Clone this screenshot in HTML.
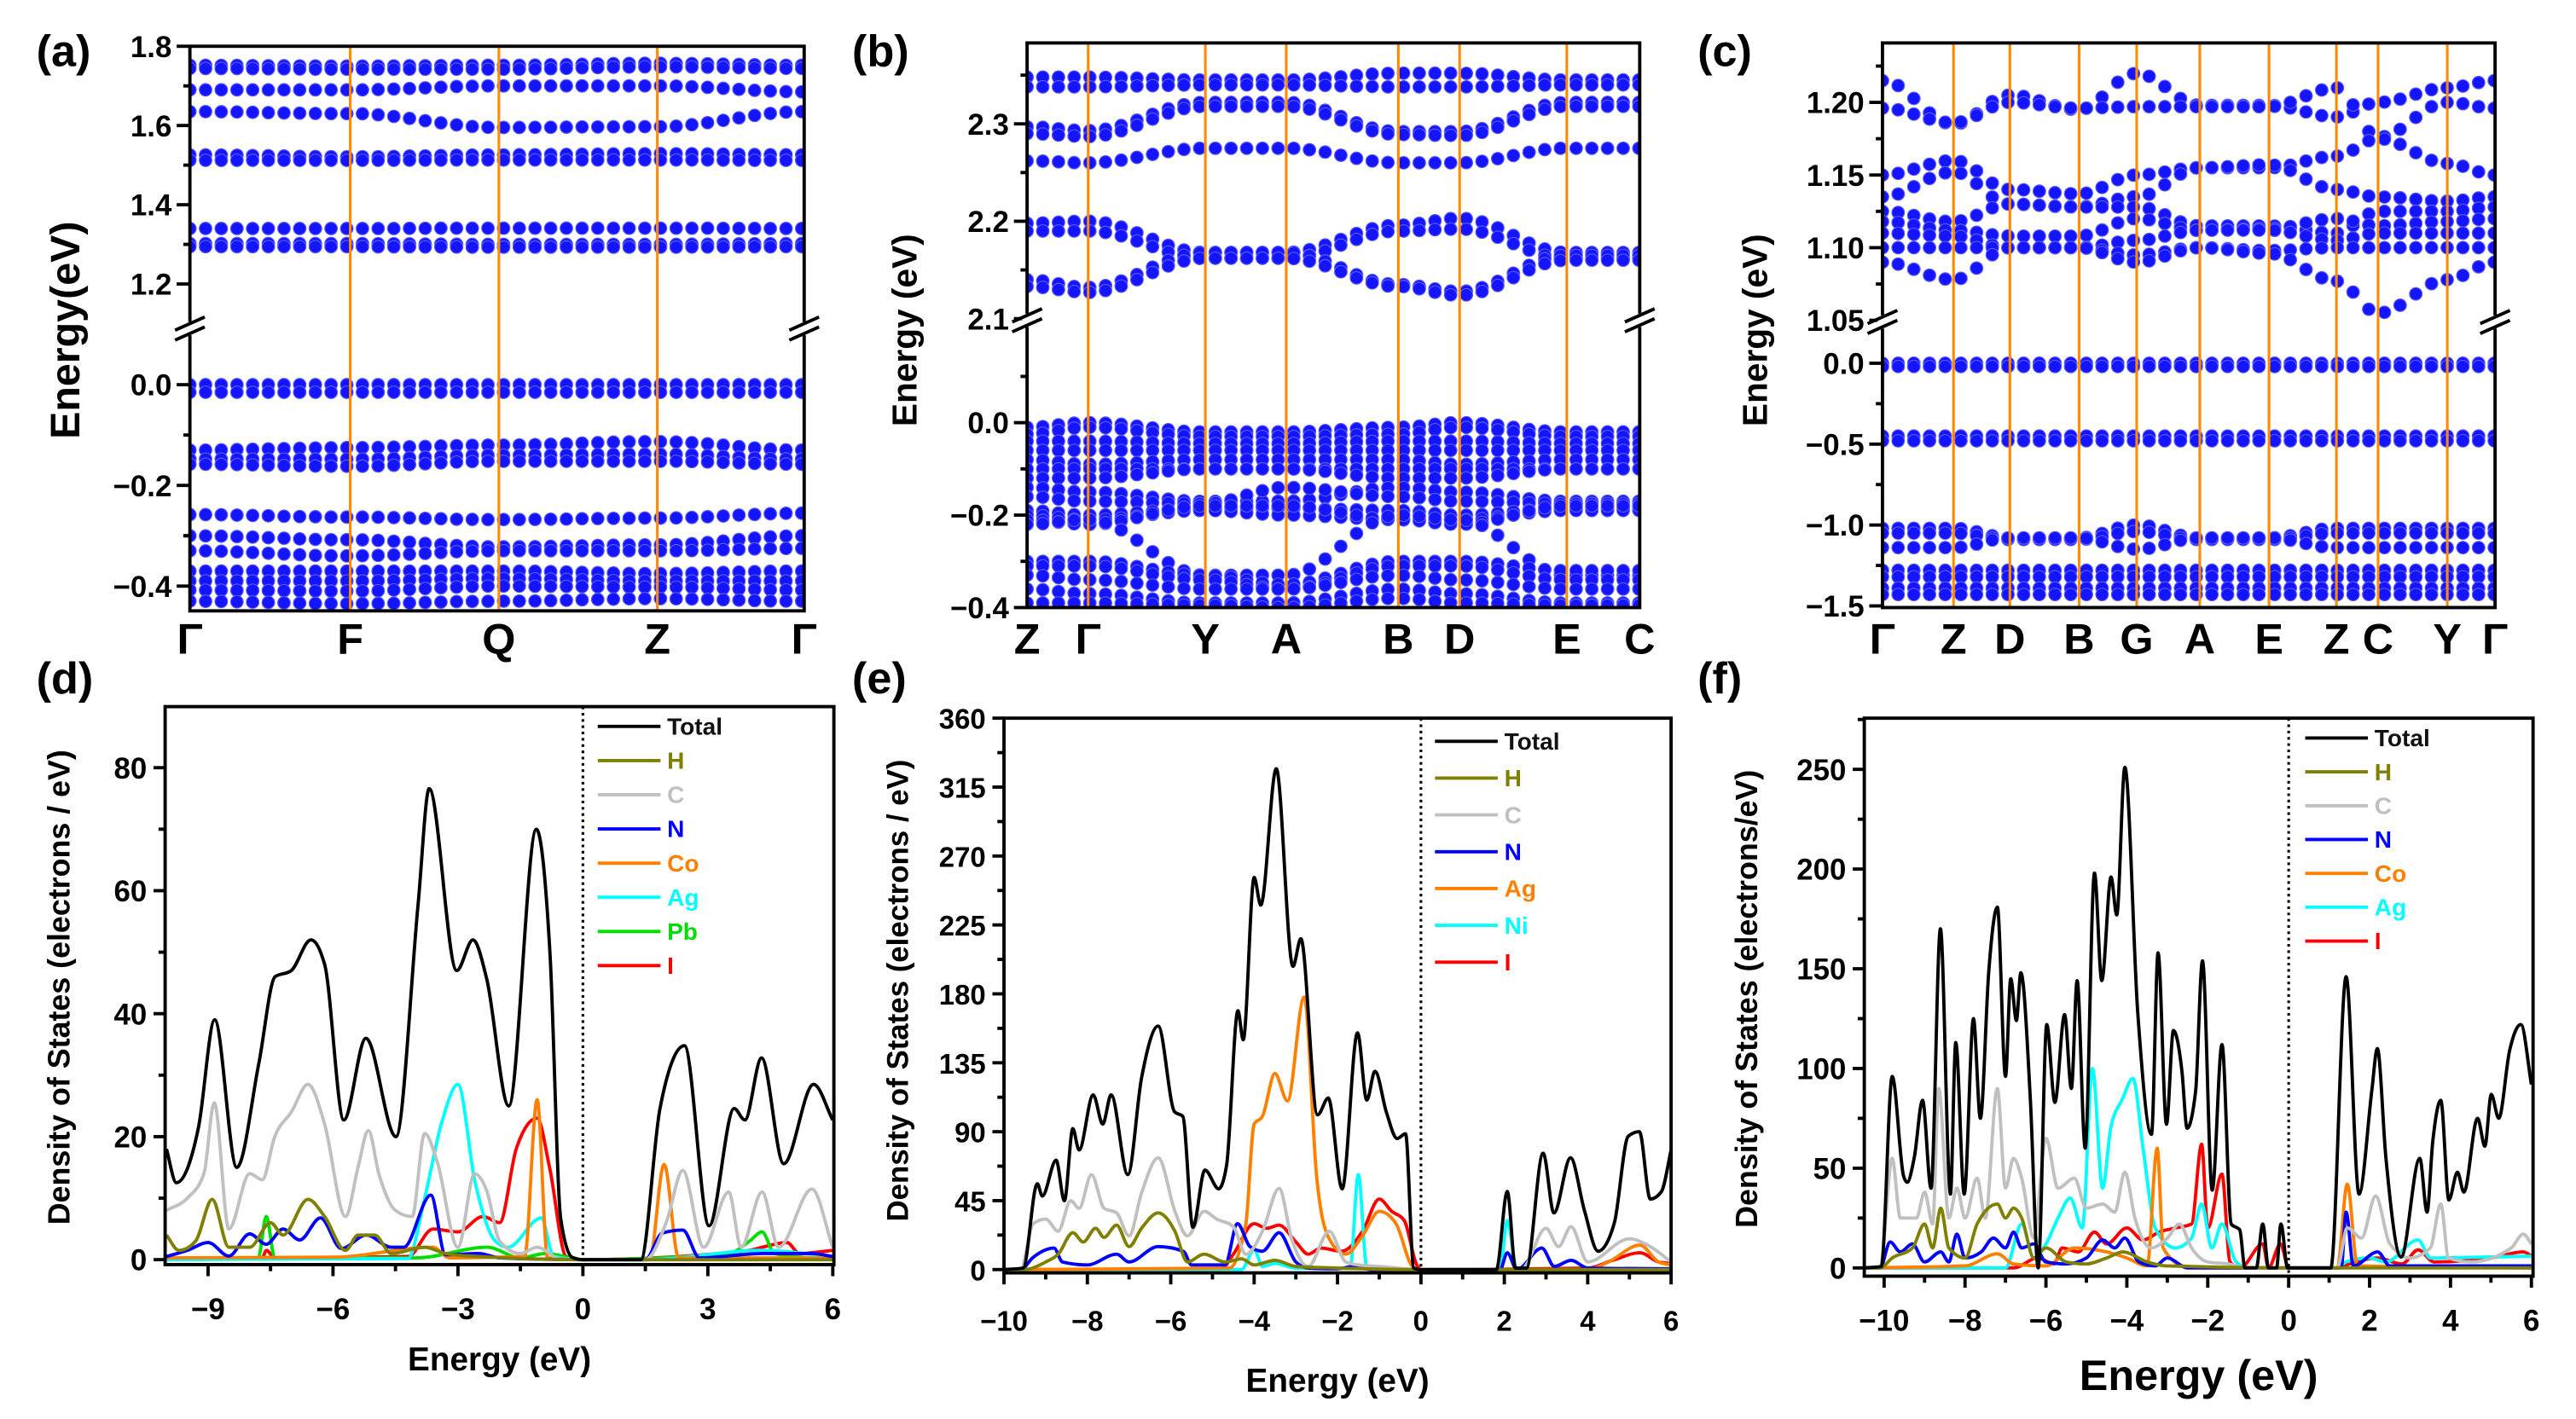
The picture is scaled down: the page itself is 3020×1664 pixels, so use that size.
<!DOCTYPE html>
<html><head><meta charset="utf-8">
<style>
html,body{margin:0;padding:0;background:#fff;}
svg{display:block;font-family:"Liberation Sans",Arial,sans-serif;font-weight:bold;}
</style></head>
<body>
<svg id="fig" xmlns="http://www.w3.org/2000/svg" width="3020" height="1664" viewBox="0 0 1560 859.5">
<rect x="0" y="0" width="1560" height="860" fill="#fff"/>
</svg>
<script>
// ===== Band structure data =====
const aKLabels = ["Γ","F","Q","Z","Γ"];
const aKDist = [0, 0.261, 0.503, 0.761, 1];
const aBands = [
 [1.752,1.750,1.752,1.757,1.752],[1.744,1.742,1.742,1.748,1.744],
 [1.690,1.690,1.700,1.700,1.685],[1.635,1.630,1.595,1.597,1.635],
 [1.526,1.521,1.526,1.529,1.526],[1.512,1.512,1.513,1.513,1.512],
 [1.340,1.340,1.341,1.341,1.340],[1.302,1.302,1.300,1.300,1.302],[1.294,1.294,1.293,1.293,1.294],
 [0.000,0.000,0.000,0.000,0.000],[-0.015,-0.015,-0.015,-0.015,-0.015],
 [-0.130,-0.125,-0.120,-0.113,-0.130],[-0.148,-0.148,-0.140,-0.138,-0.148],[-0.158,-0.162,-0.152,-0.152,-0.158],
 [-0.258,-0.263,-0.268,-0.265,-0.255],[-0.300,-0.308,-0.322,-0.318,-0.300],[-0.330,-0.340,-0.330,-0.330,-0.325],
 [-0.370,-0.370,-0.370,-0.375,-0.370],[-0.390,-0.390,-0.385,-0.390,-0.390],[-0.408,-0.410,-0.400,-0.402,-0.408],[-0.430,-0.435,-0.430,-0.425,-0.430]
];
const aTicksUpper = [1.2,1.4,1.6,1.8];
const aTicksLower = [-0.4,-0.2,0.0];

const bKLabels = ["Z","Γ","Y","A","B","D","E","C"];
const bKDist = [0, 0.0997, 0.291, 0.423, 0.606, 0.706, 0.881, 1];
const bBands = [
 [2.348,2.348,2.345,2.345,2.352,2.352,2.345,2.345],[2.338,2.338,2.340,2.340,2.338,2.338,2.340,2.340],
 [2.297,2.293,2.322,2.322,2.292,2.292,2.322,2.322],[2.290,2.287,2.318,2.318,2.289,2.288,2.318,2.318],
 [2.262,2.260,2.275,2.275,2.260,2.260,2.275,2.275],
 [2.198,2.200,2.168,2.168,2.196,2.203,2.168,2.168],[2.190,2.190,2.162,2.162,2.190,2.192,2.162,2.162],
 [2.140,2.132,2.168,2.168,2.135,2.128,2.165,2.165],[2.133,2.127,2.162,2.162,2.133,2.124,2.160,2.160],
 [-0.010,0.000,-0.020,-0.020,-0.010,0.000,-0.020,-0.020],[-0.025,-0.010,-0.030,-0.030,-0.025,-0.010,-0.030,-0.030],
 [-0.040,-0.040,-0.045,-0.045,-0.040,-0.040,-0.045,-0.045],[-0.060,-0.060,-0.060,-0.060,-0.060,-0.060,-0.060,-0.060],
 [-0.080,-0.090,-0.080,-0.080,-0.080,-0.090,-0.080,-0.080],[-0.100,-0.100,-0.100,-0.100,-0.100,-0.100,-0.100,-0.100],
 [-0.120,-0.120,-0.100,-0.100,-0.120,-0.120,-0.100,-0.100],[-0.140,-0.150,-0.170,-0.170,-0.140,-0.150,-0.170,-0.170],
 [-0.160,-0.170,-0.175,-0.140,-0.160,-0.170,-0.175,-0.175],[-0.190,-0.200,-0.185,-0.185,-0.190,-0.200,-0.185,-0.185],
 [-0.200,-0.210,-0.190,-0.200,-0.210,-0.210,-0.190,-0.190],[-0.210,-0.220,-0.180,-0.180,-0.210,-0.220,-0.180,-0.180],
 [-0.220,-0.210,-0.330,-0.330,-0.200,-0.210,-0.330,-0.330],
 [-0.300,-0.300,-0.330,-0.350,-0.300,-0.300,-0.320,-0.320],[-0.310,-0.310,-0.340,-0.360,-0.310,-0.310,-0.340,-0.340],
 [-0.330,-0.340,-0.360,-0.360,-0.330,-0.340,-0.360,-0.360],[-0.360,-0.370,-0.390,-0.390,-0.360,-0.370,-0.390,-0.390],
 [-0.390,-0.390,-0.395,-0.400,-0.380,-0.390,-0.395,-0.395]
];
const bTicksUpper = [2.1,2.2,2.3];
const bTicksLower = [-0.4,-0.2,0.0];

const cKLabels = ["Γ","Z","D","B","G","A","E","Z","C","Y","Γ"];
const cKDist = [0, 0.116, 0.208, 0.321, 0.415, 0.518, 0.631, 0.741, 0.809, 0.922, 1];
const cBands = [
 [1.215,1.185,1.205,1.195,1.220,1.198,1.198,1.190,1.200,1.210,1.215],
 [1.196,1.186,1.200,1.196,1.197,1.197,1.197,1.210,1.176,1.200,1.196],
 [1.150,1.160,1.140,1.137,1.150,1.155,1.155,1.163,1.175,1.158,1.150],
 [1.135,1.152,1.130,1.128,1.135,1.155,1.157,1.140,1.135,1.132,1.135],
 [1.125,1.118,1.130,1.128,1.128,1.115,1.115,1.110,1.125,1.125,1.128],
 [1.118,1.112,1.108,1.108,1.120,1.112,1.113,1.120,1.115,1.118,1.120],
 [1.110,1.108,1.100,1.100,1.105,1.112,1.112,1.105,1.110,1.110,1.110],
 [1.100,1.100,1.100,1.100,1.095,1.100,1.098,1.100,1.100,1.100,1.100],
 [1.090,1.078,1.100,1.100,1.090,1.100,1.096,1.077,1.055,1.078,1.090],
 [0.000,0.000,0.000,0.000,0.000,0.000,0.000,0.000,0.000,0.000,0.000],
 [-0.020,-0.020,-0.020,-0.020,-0.020,-0.020,-0.020,-0.020,-0.020,-0.020,-0.020],
 [-0.450,-0.450,-0.450,-0.450,-0.450,-0.450,-0.450,-0.450,-0.450,-0.450,-0.450],
 [-0.480,-0.480,-0.480,-0.480,-0.480,-0.480,-0.480,-0.480,-0.480,-0.480,-0.480],
 [-1.020,-1.020,-1.080,-1.080,-1.000,-1.080,-1.080,-1.020,-1.020,-1.020,-1.020],
 [-1.050,-1.050,-1.090,-1.090,-1.040,-1.090,-1.090,-1.050,-1.050,-1.050,-1.050],
 [-1.140,-1.140,-1.080,-1.080,-1.150,-1.080,-1.080,-1.140,-1.140,-1.140,-1.140],
 [-1.280,-1.280,-1.280,-1.280,-1.280,-1.280,-1.280,-1.280,-1.280,-1.280,-1.280],
 [-1.320,-1.320,-1.320,-1.320,-1.320,-1.320,-1.320,-1.320,-1.320,-1.320,-1.320],
 [-1.390,-1.390,-1.390,-1.390,-1.390,-1.390,-1.390,-1.390,-1.390,-1.390,-1.390],
 [-1.430,-1.430,-1.430,-1.430,-1.430,-1.430,-1.430,-1.430,-1.430,-1.430,-1.430]
];
const cTicksUpper = [1.05,1.10,1.15,1.20];
const cTicksLower = [-1.5,-1.0,-0.5,0.0];

// ===== DOS data: [energy eV, DOS] =====
const dTotal = [[-10,18],[-9.76,12.5],[-9.23,21.5],[-8.84,39],[-8.31,15],[-7.78,32],[-7.39,46],[-7.0,47],[-6.53,52],[-6.2,48],[-5.74,22.7],[-5.21,36],[-4.49,20],[-3.96,57.5],[-3.69,76.6],[-3.03,47],[-2.64,52],[-2.31,45.7],[-1.78,25],[-1.12,70],[-0.79,49.6],[-0.53,6.6],[-0.26,0.4],[0,0],[1.39,0],[1.85,24.6],[2.44,34.8],[3.03,5.5],[3.63,24.6],[3.89,22.7],[4.29,32.8],[4.82,15.6],[5.54,28.5],[6.0,22.7]];
const dH = [[-10,4],[-9.7,1.5],[-9.3,3],[-8.9,9.8],[-8.5,2],[-8,2],[-7.5,6],[-7.2,4],[-6.6,9.8],[-6.2,7],[-5.7,1.5],[-5.4,4],[-5.0,4],[-4.6,1],[-3.8,2],[-3.3,1],[-2.5,0.5],[0,0],[6,0]];
const dC = [[-10,8],[-9.5,10],[-9.1,14],[-8.85,25.5],[-8.5,5],[-8.0,14],[-7.7,13],[-7.4,20],[-7.0,24],[-6.6,28.5],[-6.2,22],[-5.7,7],[-5.4,15],[-5.15,21],[-4.9,14],[-4.5,8],[-4.1,7],[-3.8,20.5],[-3.5,16],[-3.0,2],[-2.6,14],[-2.3,11],[-2.0,3],[-1.5,1],[-1.1,2],[-0.5,0],[1.5,0],[2.0,6],[2.4,14.5],[2.9,2],[3.5,11],[3.8,2],[4.3,11],[4.7,2],[5.5,11.5],[6,2]];
const dN = [[-10,0.5],[-9.5,1.5],[-9,2.8],[-8.5,0.6],[-8,4.2],[-7.6,2.5],[-7.2,5],[-6.8,3.2],[-6.3,6.8],[-5.8,1.8],[-5.2,4],[-4.6,2],[-4.3,2],[-3.65,10.5],[-3.3,0.8],[-2.5,1],[-2,0.3],[0,0],[1.5,0],[1.9,4.3],[2.4,4.8],[2.8,0.3],[4.3,1],[5.5,1],[6,0.5]];
const dCo = [[-10,0.3],[-6,0.4],[-3.6,2],[-3.2,0.3],[-1.4,0.5],[-1.1,26],[-0.85,0.3],[0,0],[1.6,0],[1.95,15.5],[2.3,0.3],[6,0.3]];
const dAg = [[-10,0],[-4.2,0.2],[-3.8,10],[-3.4,22],[-3.0,28.5],[-2.6,13],[-2.1,3],[-1.8,2],[-1.0,6.8],[-0.7,0.5],[0,0],[1.5,0],[4.3,1.5],[6,0.5]];
const dPb = [[-10,0],[-7.8,0.2],[-7.6,7],[-7.4,0.3],[-4,0.3],[-2.3,2],[-1.5,0.3],[-0.9,1],[0,0],[3.5,1],[4.0,3],[4.3,4.5],[4.6,1],[6,0]];
const dI = [[-10,0.2],[-7.7,0.3],[-7.6,1.5],[-7.4,0.3],[-4.2,0.5],[-3.6,5],[-3.0,4.5],[-2.4,7],[-2.0,6],[-1.6,18],[-1.1,23],[-0.8,15],[-0.4,0.5],[0,0],[4.0,1.5],[4.3,2],[4.9,2.8],[5.2,1],[6,1.5]];
const dXTicks = [-9,-6,-3,0,3,6];
const dYTicks = [0,20,40,60,80];

const eTotal = [[-10,0],[-9.54,1],[-9.2,56],[-9.08,48],[-8.75,71.5],[-8.55,45],[-8.35,92],[-8.2,78],[-7.86,114],[-7.63,95],[-7.43,114],[-7.03,62],[-6.7,125],[-6.3,159],[-5.91,103],[-5.71,100],[-5.47,27.6],[-5.18,65],[-4.85,52.7],[-4.66,68],[-4.39,169],[-4.26,150],[-4.0,256],[-3.84,238],[-3.47,327],[-3.07,198],[-2.88,216],[-2.48,101],[-2.22,112],[-1.89,52.7],[-1.52,154.6],[-1.3,110.7],[-1.1,129.5],[-0.83,103],[-0.57,85.6],[-0.37,88.7],[-0.17,1],[0,0],[1.81,0],[2.07,51],[2.27,1],[2.53,1],[2.93,76],[3.19,37],[3.59,73],[3.92,38.6],[4.25,12],[4.64,30.7],[4.97,87],[5.24,90],[5.5,46],[5.77,51],[6,78]];
const eH = [[-10,0],[-9.5,0],[-9.0,5],[-8.7,10],[-8.35,24],[-8.1,18],[-7.8,27],[-7.6,21],[-7.3,29],[-7.0,15],[-6.7,27],[-6.3,37],[-5.9,25],[-5.6,5],[-5.2,10],[-4.7,5],[-4.3,7],[-4.0,3],[-3.5,6],[-3.0,2],[-2,1],[0,0],[6,0]];
const eC = [[-10,0],[-9.6,0],[-9.3,30],[-9,33],[-8.7,25],[-8.4,45],[-8.2,40],[-7.9,62],[-7.6,40],[-7.3,37],[-7.0,22],[-6.7,50],[-6.3,73],[-5.9,38],[-5.6,22],[-5.2,38],[-4.9,33],[-4.5,28],[-4.2,10],[-3.8,25],[-3.4,53],[-3.1,20],[-2.7,2],[-2.2,25],[-1.8,5],[-1.5,3],[-1.0,2],[0,0],[2.4,0],[3.0,27],[3.3,15],[3.6,28],[4.0,5],[5.0,20],[5.5,15],[6,5]];
const eN = [[-10,0],[-9.6,0],[-9.3,8],[-8.8,14],[-8.6,5],[-8.0,3],[-7.3,10],[-7.0,5],[-6.3,15],[-5.7,12],[-5.5,3],[-4.7,3],[-4.4,30],[-4.1,15],[-3.8,12],[-3.4,24],[-3.0,5],[-2.7,1],[-2,0.5],[-1.6,2],[-1.2,0],[0,0],[1.9,0],[2.07,11],[2.3,0],[2.9,14],[3.2,2],[3.6,6],[4,1],[6,0.5]];
const eAg = [[-10,0],[-4.6,1],[-4.2,30],[-4.0,95],[-3.8,100],[-3.5,128],[-3.2,110],[-2.8,178],[-2.5,60],[-2.2,20],[-1.8,10],[-1.4,22],[-1.0,38],[-0.6,30],[-0.2,2],[0,0],[4,0],[4.5,5],[5.25,16],[5.7,5],[6,3]];
const eNi = [[-10,0],[-4.3,0],[-4.0,13],[-3.8,2],[-3.5,4],[-3,1],[-1.7,1],[-1.5,62],[-1.3,2],[-0.5,0],[0,0],[1.9,0],[2.07,32],[2.3,0],[6,0]];
const eI = [[-10,0],[-4.8,0],[-4.5,10],[-4.0,30],[-3.7,27],[-3.4,29],[-3.0,18],[-2.7,10],[-2.4,14],[-1.9,12],[-1.4,25],[-1.0,46],[-0.7,38],[-0.4,32],[-0.1,3],[0,0],[4,1],[4.6,6],[5.25,11],[5.7,5],[6,4]];
const eXTicks = [-10,-8,-6,-4,-2,0,2,4,6];
const eYTicks = [0,45,90,135,180,225,270,315,360];

const fTotal = [[-10.5,0],[-10.07,0.7],[-9.8,96],[-9.52,46],[-9.43,43],[-9.25,56],[-9.05,84],[-8.84,40],[-8.61,170],[-8.36,37],[-8.23,113],[-8.02,37],[-7.79,125],[-7.62,75],[-7.41,150],[-7.2,181],[-7.0,96],[-6.87,145],[-6.73,124],[-6.62,148],[-6.39,87],[-6.19,0],[-5.98,122],[-5.78,83],[-5.54,127],[-5.37,90],[-5.23,144],[-5.03,60],[-4.8,198],[-4.62,144],[-4.39,196],[-4.25,177],[-4.05,251],[-3.73,128],[-3.39,67],[-3.23,158],[-3.02,72],[-2.85,119],[-2.64,99],[-2.51,70],[-2.3,89],[-2.13,154],[-1.89,39],[-1.65,112],[-1.42,22],[-1.21,19],[-1.08,0],[-0.8,0],[-0.64,22],[-0.5,0],[-0.3,0],[-0.19,22],[-0.03,0],[1.04,0],[1.42,146],[1.74,37],[2.06,90],[2.19,110],[2.4,56],[2.78,5.5],[3.24,55],[3.42,28],[3.56,63],[3.76,84],[3.96,34],[4.17,48],[4.33,38],[4.67,75],[4.85,61],[5.01,87],[5.19,75],[5.46,109],[5.74,122],[6,92]];
const fH = [[-10.5,0],[-10.1,0],[-9.8,5],[-9.3,10],[-9.0,22],[-8.8,10],[-8.6,30],[-8.4,10],[-8.0,5],[-7.7,22],[-7.2,32],[-7.0,25],[-6.8,30],[-6.6,25],[-6.3,5],[-6.0,10],[-5.5,3],[-5,2],[-4.5,5],[-4.1,8],[-3.5,3],[-3,1],[0,0],[6,0]];
const fC = [[-10.5,0],[-10.1,0],[-9.8,55],[-9.6,25],[-9.2,25],[-9.0,38],[-8.8,22],[-8.65,90],[-8.4,25],[-8.2,40],[-8.0,25],[-7.7,45],[-7.5,25],[-7.2,90],[-7.0,40],[-6.8,55],[-6.6,45],[-6.3,15],[-6.0,65],[-5.7,40],[-5.3,45],[-5.0,30],[-4.6,32],[-4.3,28],[-4.05,48],[-3.8,25],[-3.4,10],[-3.0,15],[-2.7,22],[-2.4,10],[-2.0,3],[-1.5,2],[-1,0],[0,0],[1.2,0],[1.45,20],[1.8,15],[2.15,36],[2.5,12],[3.0,5],[3.5,10],[3.76,32],[3.95,5],[4.5,3],[5.5,10],[5.8,17],[6,12]];
const fN = [[-10.5,0],[-10.1,0],[-9.85,13],[-9.6,8],[-9.3,12],[-9.0,3],[-8.6,8],[-8.4,3],[-8.2,17],[-8.0,5],[-7.6,8],[-7.3,15],[-7.0,10],[-6.8,18],[-6.6,10],[-6.3,12],[-6.0,3],[-5.5,2],[-5.0,5],[-4.6,14],[-4.3,10],[-4.05,15],[-3.7,3],[-3.3,1],[-3.0,5],[-2.5,0],[0,0],[1.3,0],[1.42,28],[1.6,1],[2.2,8],[2.5,1],[6,1]];
const fCo = [[-10.5,0],[-8,1],[-7.2,7],[-6.8,2],[-6,1],[-5.3,10],[-4.5,8],[-4,5],[-3.5,1],[-3.25,60],[-3.1,10],[-2.6,1],[-2,0],[0,0],[1.2,0],[1.45,42],[1.7,1],[6,0]];
const fAg = [[-10.5,0],[-7,0],[-6.6,22],[-6.3,5],[-6.0,12],[-5.7,25],[-5.4,35],[-5.1,20],[-4.85,100],[-4.6,40],[-4.4,70],[-4.1,85],[-3.85,95],[-3.6,60],[-3.3,20],[-2.8,10],[-2.4,15],[-2.15,32],[-1.9,10],[-1.65,22],[-1.3,3],[-1,0],[0,0],[1.2,0],[1.42,3],[2,5],[2.4,3],[3.2,14],[3.5,5],[6,6]];
const fI = [[-10.5,0],[-6.8,0],[-6.2,5],[-5.8,2],[-5.6,10],[-5.2,8],[-4.8,18],[-4.5,12],[-4.0,20],[-3.6,14],[-3.2,18],[-2.8,20],[-2.4,22],[-2.15,62],[-2.0,20],[-1.65,47],[-1.45,3],[-1.2,0],[-0.64,12],[-0.5,0],[-0.2,12],[0,0],[1.2,0],[1.5,2],[2.2,5],[2.8,2],[3.2,9],[3.6,3],[5,5],[5.8,8],[6,6]];
const fXTicks = [-10,-8,-6,-4,-2,0,2,4,6];
const fYTicks = [0,50,100,150,200,250];

// ===== helpers =====
const NS = "http://www.w3.org/2000/svg";
const svg = document.getElementById('fig');
function mk(tag, attrs, parent){
  const e = document.createElementNS(NS, tag);
  for (const k in attrs) e.setAttribute(k, attrs[k]);
  (parent || svg).appendChild(e);
  return e;
}
function txt(s, x, y, size, anchor, color, parent){
  const t = mk('text', {x:x, y:y, 'font-size':size, 'text-anchor':anchor||'middle', fill:color||'#000'}, parent);
  t.textContent = s;
  return t;
}
function fmt(v, d){ const s = v.toFixed(d); return v < 0 ? '\u2212' + s.slice(1) : s; }

// ===== band structure panel =====
function bandPanel(p, kLabels, kDist, bands, upTicks, loTicks, cfg){
  const g = mk('g', {});
  
  
  const {x0, x1, y0, y1, up, lo, brk, dec} = cfg;
  const yUp = v => up.ya + (v - up.va) * (up.yb - up.ya) / (up.vb - up.va);
  const yLo = v => lo.ya + (v - lo.va) * (lo.yb - lo.ya) / (lo.vb - lo.va);
  const yOf = v => v > cfg.split ? yUp(v) : yLo(v);
  const xOf = t => x0 + t * (x1 - x0);
  const clipId = 'clip-' + p;
  const cp = mk('clipPath', {id: clipId}, g);
  mk('rect', {x:x0, y:y0, width:x1-x0, height:y1-y0}, cp);
  const bg = mk('g', {'clip-path':'url(#' + clipId + ')'}, g);
  
  
  const step = 9.5 / (x1 - x0);
  bands.forEach((b, bi) => {
    const bandG = mk('g', {fill:'#1414ff', stroke:'#5a5aff', 'stroke-width':0.6}, bg);
    
    
    for (let t = 0; t <= 1.0001; t += step) {
      let i = 0;
      while (i < kDist.length - 2 && t > kDist[i + 1]) i++;
      const u = Math.min(1, Math.max(0, (t - kDist[i]) / (kDist[i + 1] - kDist[i])));
      const w = (1 - Math.cos(Math.PI * u)) / 2;
      const e = b[i] + (b[i + 1] - b[i]) * w;
      const c = mk('circle', {cx: xOf(t).toFixed(1), cy: yOf(e).toFixed(1), r: 3.8}, bandG);
      
      
    }
  });
  // high-symmetry lines
  kDist.forEach((t, i) => {
    if (i > 0 && i < kDist.length - 1) {
      const l = mk('line', {x1:xOf(t), x2:xOf(t), y1:y0, y2:y1, stroke:'#ff8c00', 'stroke-width':1.6}, g);
      
      
    }
    const kl = txt(kLabels[i], xOf(t), 396, 26, 'middle', '#000', g);
    
    
  });
  // frame
  const fr = mk('rect', {x:x0, y:y0, width:x1-x0, height:y1-y0, fill:'none', stroke:'#000', 'stroke-width':2}, g);
  
  
  // ticks
  const tk = (v, yy, major, lbl) => {
    const t = mk('line', {x1:x0 - (major ? 8 : 4), x2:x0, y1:yy, y2:yy, stroke:'#000', 'stroke-width':2}, g);
    
    
    if (major) {
      const tl = txt(lbl, x0 - 11, yy + 6.5, 18, 'end', '#000', g);
      
      
    }
  };
  upTicks.forEach(v => tk(v, yUp(v), true, fmt(v, dec)));
  for (let i = 0; i < upTicks.length - 1; i++) { const m = (upTicks[i] + upTicks[i+1]) / 2; tk(m, yUp(m), false); }
  loTicks.forEach(v => tk(v, yLo(v), true, fmt(v, 1)));
  for (let i = 0; i < loTicks.length - 1; i++) { const m = (loTicks[i] + loTicks[i+1]) / 2; tk(m, yLo(m), false); }
  if (cfg.extraMinorUp) cfg.extraMinorUp.forEach(v => tk(v, yUp(v), false));
  if (cfg.extraMinorLo) cfg.extraMinorLo.forEach(v => tk(v, yLo(v), false));
  // axis break marks
  [x0, x1].forEach(xx => {
    mk('rect', {x:xx - 3, y:brk - 4, width:6, height:8, fill:'#fff'}, g);
    for (const d of [-3, 3]) {
      const bm = mk('line', {x1:xx - 9, y1:brk + d + 4, x2:xx + 9, y2:brk + d - 4, stroke:'#000', 'stroke-width':2}, g);
      
      
    }
  });
  // y title
  const yt = txt(cfg.title, 0, 0, cfg.titleSize, 'middle', '#000', g);
  yt.setAttribute('transform', 'translate(' + cfg.titleX + ',' + cfg.titleY + ') rotate(-90)');
  
  
}

// ===== DOS panel =====
function monoPath(pts){
  const n = pts.length;
  if (n < 2) return '';
  const h = [], s = [];
  for (let i = 0; i < n - 1; i++) { h.push(pts[i+1][0] - pts[i][0]); s.push((pts[i+1][1] - pts[i][1]) / (h[i] || 1e-6)); }
  const m = new Array(n);
  m[0] = s[0]; m[n-1] = s[n-2];
  for (let i = 1; i < n - 1; i++) {
    if (s[i-1] * s[i] <= 0) { m[i] = 0; continue; }
    const pp = (s[i-1] * h[i] + s[i] * h[i-1]) / (h[i-1] + h[i]);
    m[i] = Math.sign(s[i]) * Math.min(Math.abs(s[i-1]), Math.abs(s[i]), 0.5 * Math.abs(pp)) * 2;
  }
  let d = 'M' + pts[0][0].toFixed(1) + ',' + pts[0][1].toFixed(1);
  for (let i = 0; i < n - 1; i++) {
    const dx = h[i] / 3;
    d += 'C' + (pts[i][0] + dx).toFixed(1) + ',' + (pts[i][1] + m[i] * dx).toFixed(1) + ' ' +
         (pts[i+1][0] - dx).toFixed(1) + ',' + (pts[i+1][1] - m[i+1] * dx).toFixed(1) + ' ' +
         pts[i+1][0].toFixed(1) + ',' + pts[i+1][1].toFixed(1);
  }
  return d;
}
function dosPanel(p, series, xTicks, yTicks, cfg){
  const g = mk('g', {});
  
  
  const {x0, x1, y0, y1, ex, ey} = cfg;
  const X = e => ex.xa + (e - ex.va) * (ex.xb - ex.xa) / (ex.vb - ex.va);
  const Y = v => ey.ya + (v - ey.va) * (ey.yb - ey.ya) / (ey.vb - ey.va);
  const clipId = 'clip-' + p;
  const cp = mk('clipPath', {id: clipId}, g);
  mk('rect', {x:x0, y:y0, width:x1-x0, height:y1-y0}, cp);
  const pg = mk('g', {'clip-path':'url(#' + clipId + ')'}, g);
  // draw order: partials first (reverse), total last on top? keep order: total first, then partials
  series.slice().reverse().forEach(sr => {
    const path = mk('path', {d: monoPath(sr.data.map(q => [X(q[0]), Y(q[1])])), fill:'none', stroke:sr.color, 'stroke-width':2, 'stroke-linejoin':'round'}, pg);
    
    
  });
  // fermi line
  const fl = mk('line', {x1:X(0), x2:X(0), y1:y0, y2:y1, stroke:'#000', 'stroke-width':1.6, 'stroke-dasharray':'1.6,2.2'}, g);
  
  
  const fr = mk('rect', {x:x0, y:y0, width:x1-x0, height:y1-y0, fill:'none', stroke:'#000', 'stroke-width':2}, g);
  
  
  // x ticks
  xTicks.forEach((v, i) => {
    const t = mk('line', {x1:X(v), x2:X(v), y1:y1, y2:y1 + 7, stroke:'#000', 'stroke-width':2}, g);
    
    
    const tl = txt(fmt(v, 0), X(v), cfg.xLabY, cfg.tickSize, 'middle', '#000', g);
    
    
    if (i < xTicks.length - 1) {
      const mv = (v + xTicks[i+1]) / 2;
      const mt = mk('line', {x1:X(mv), x2:X(mv), y1:y1, y2:y1 + 4, stroke:'#000', 'stroke-width':2}, g);
      
      
    }
  });
  yTicks.forEach((v, i) => {
    const t = mk('line', {x1:x0 - 7, x2:x0, y1:Y(v), y2:Y(v), stroke:'#000', 'stroke-width':2}, g);
    
    
    const tl = txt(String(v), x0 - 11, Y(v) + 6.5, cfg.tickSize, 'end', '#000', g);
    
    
    const nv = i < yTicks.length - 1 ? (v + yTicks[i+1]) / 2 : v + (v - yTicks[i-1]) / 2;
    if (Y(nv) > y0) {
      const mt = mk('line', {x1:x0 - 4, x2:x0, y1:Y(nv), y2:Y(nv), stroke:'#000', 'stroke-width':2}, g);
      
      
    }
  });
  // legend
  series.forEach((sr, i) => {
    const ly = cfg.legY + i * cfg.legDy;
    const ll = mk('line', {x1:cfg.legX, x2:cfg.legX + 38, y1:ly, y2:ly, stroke:sr.color, 'stroke-width':2}, g);
    
    
    const lt = txt(sr.name, cfg.legX + 42, ly + 5, 14.5, 'start', sr.color === '#000' ? '#111' : sr.color, g);
    
    
  });
  const xt = txt('Energy (eV)', (x0 + x1) / 2, cfg.xTitleY, cfg.xTitleSize, 'middle', '#000', g);
  
  
  const yt = txt(cfg.yTitle, 0, 0, cfg.yTitleSize, 'middle', '#000', g);
  yt.setAttribute('transform', 'translate(' + cfg.yTitleX + ',' + cfg.yTitleY + ') rotate(-90)');
  
  
}

// ===== build =====
bandPanel('a', aKLabels, aKDist, aBands, aTicksUpper, aTicksLower, {
  x0:115, x1:487, y0:28, y1:370, split:0.6,
  up:{va:1.8, ya:28, vb:1.2, yb:172}, lo:{va:0.0, ya:233, vb:-0.4, yb:355},
  brk:199, dec:1, extraMinorLo:[-0.3], title:'Energy(eV)', titleSize:25, titleX:48, titleY:200
});
bandPanel('b', bKLabels, bKDist, bBands, bTicksUpper, bTicksLower, {
  x0:622, x1:993, y0:26, y1:368, split:1.0,
  up:{va:2.3, ya:75, vb:2.2, yb:134}, lo:{va:0.0, ya:256, vb:-0.2, yb:312},
  brk:194, dec:1, extraMinorUp:[2.35], extraMinorLo:[0.1], title:'Energy (eV)', titleSize:21, titleX:555, titleY:200
});
bandPanel('c', cKLabels, cKDist, cBands, cTicksUpper, cTicksLower, {
  x0:1140, x1:1511, y0:26, y1:368, split:0.5,
  up:{va:1.20, ya:62, vb:1.15, yb:106}, lo:{va:0.0, ya:220, vb:-0.5, yb:269},
  brk:195, dec:2, extraMinorUp:[1.225], title:'Energy (eV)', titleSize:21, titleX:1070, titleY:200
});

dosPanel('d', [
  {name:'Total', color:'#000', data:dTotal},{name:'H', color:'#808000', data:dH},{name:'C', color:'#c0c0c0', data:dC},
  {name:'N', color:'#0000ff', data:dN},{name:'Co', color:'#ff8000', data:dCo},{name:'Ag', color:'#00ffff', data:dAg},
  {name:'Pb', color:'#00dd00', data:dPb},{name:'I', color:'#ff0000', data:dI}
], dXTicks, dYTicks, {
  x0:100, x1:505, y0:428, y1:766, ex:{va:-9, xa:126, vb:0, xb:353}, ey:{va:80, ya:465, vb:0, yb:763},
  xLabY:799, tickSize:18, legX:362, legY:440, legDy:20.7, xTitleY:830, xTitleSize:20,
  yTitle:'Density of States (electrons / eV)', yTitleSize:18.5, yTitleX:42, yTitleY:598
});
dosPanel('e', [
  {name:'Total', color:'#000', data:eTotal},{name:'H', color:'#808000', data:eH},{name:'C', color:'#c0c0c0', data:eC},
  {name:'N', color:'#0000ff', data:eN},{name:'Ag', color:'#ff8000', data:eAg},{name:'Ni', color:'#00ffff', data:eNi},
  {name:'I', color:'#ff0000', data:eI}
], eXTicks, eYTicks, {
  x0:608, x1:1012, y0:435, y1:771, ex:{va:-10, xa:608, vb:6, xb:1012}, ey:{va:360, ya:435, vb:0, yb:769},
  xLabY:806, tickSize:17, legX:869, legY:449, legDy:22.3, xTitleY:843, xTitleSize:20,
  yTitle:'Density of States (electrons / eV)', yTitleSize:18, yTitleX:550, yTitleY:600
});
dosPanel('f', [
  {name:'Total', color:'#000', data:fTotal},{name:'H', color:'#808000', data:fH},{name:'C', color:'#c0c0c0', data:fC},
  {name:'N', color:'#0000ff', data:fN},{name:'Co', color:'#ff8000', data:fCo},{name:'Ag', color:'#00ffff', data:fAg},
  {name:'I', color:'#ff0000', data:fI}
], fXTicks, fYTicks, {
  x0:1129, x1:1534, y0:435, y1:773, ex:{va:-10, xa:1141, vb:6, xb:1533}, ey:{va:250, ya:466, vb:0, yb:768},
  xLabY:806, tickSize:18, legX:1396, legY:447, legDy:20.5, xTitleY:842, xTitleSize:26,
  yTitle:'Density of States (electrons/eV)', yTitleSize:18.5, yTitleX:1064, yTitleY:605
});

// panel letters
const letters = [['(a)',22,40],['(b)',516,40],['(c)',1028,40],['(d)',22,420],['(e)',516,420],['(f)',1028,420]];
letters.forEach(L => {
  const t = txt(L[0], L[1], L[2], 27, 'start', '#000');
  
  
});
</script>
</body></html>
